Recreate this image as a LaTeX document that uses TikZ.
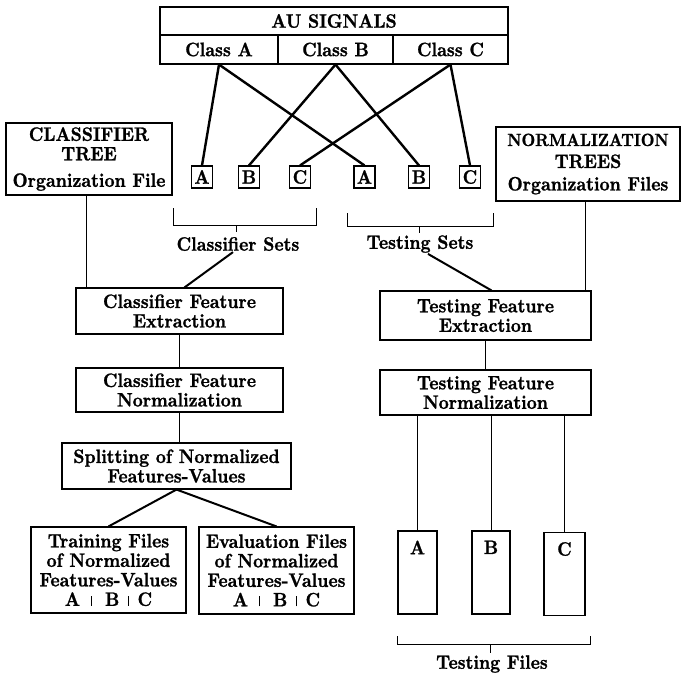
\documentclass[tikz,border=0pt]{standalone}
\usepackage{fontspec}
\usetikzlibrary{calc}
% heavy, slightly condensed Latin Modern bold for all labels
\newfontfamily\diagfont{lmroman10-bold.otf}[FakeBold=1.2, FakeStretch=0.9]
\begin{document}
\begin{tikzpicture}[x=1pt,y=-1pt,
  txt/.style={font=\diagfont\fontsize{19.4}{19.5}\selectfont, align=center, inner sep=1pt},
  box/.style={txt, draw, line width=1.1pt},
  setbox/.style={box, minimum width=21, minimum height=22, inner sep=0pt},
  filebox/.style={box, minimum height=83},
  heavy/.style={line width=2.4pt},
  medium/.style={line width=2pt},
  light/.style={line width=0.9pt},
  brk/.style={line width=1pt},
]
\useasboundingbox (0,0) rectangle (681,675);

% signal source table
\node[box, minimum width=348, minimum height=28] (au) at (334,21) {AU SIGNALS};
\node[box, minimum width=118, minimum height=29] (ca) at (219,49.5) {Class A};
\node[box, minimum width=115, minimum height=29] (cb) at (335.5,49.5) {Class B};
\node[box, minimum width=115, minimum height=29] (cc) at (450.5,49.5) {Class C};

% classifier and testing sets
\node[setbox] (sa1) at (202,177) {A};
\node[setbox] (sb1) at (249,177) {B};
\node[setbox] (sc1) at (300,177) {C};
\node[setbox] (sa2) at (364.5,177) {A};
\node[setbox] (sb2) at (419,177) {B};
\node[setbox] (sc2) at (470,177) {C};

\draw[heavy] (ca.south) -- (sa1.north);
\draw[heavy] (ca.south) -- (sa2.north);
\draw[heavy] (cb.south) -- (sb1.north);
\draw[heavy] (cb.south) -- (sb2.north);
\draw[heavy] (cc.south) -- (sc1.north);
\draw[heavy] (cc.south) -- (sc2.north);

% brackets under the sets
\coordinate (cl1) at (173,208);
\coordinate (cl2) at (316,208);
\coordinate (clm) at (236,225);
\draw[brk] (cl1) -- ++(0,17) -| (cl2);
\draw[brk] (clm) -- ++(0,7);
\node[txt] (csl) at (238,244) {Classifier Sets};

\coordinate (tl1) at (347,213);
\coordinate (tl2) at (493,213);
\coordinate (tlm) at (419,226);
\draw[brk] (tl1) -- ++(0,13) -| (tl2);
\draw[brk] (tlm) -- ++(0,7);
\node[txt] (tsl) at (420,244) {Testing Sets};

% organization files
\node[box, minimum width=166, minimum height=72] (ct) at (89,159)
  {CLASSIFIER\\[0pt]TREE\\[7pt]Organization File};
\node[box, minimum width=184, minimum height=74] (nt) at (588,164)
  {{\fontsize{17.6}{19}\selectfont NORMALIZATION}\\[2.5pt]TREES\\[3pt]Organization Files};

% classifier branch
\node[box, minimum width=207, minimum height=46] (cfe) at (179.5,311) {Classifier Feature\\Extraction};
\node[box, minimum width=207, minimum height=44] (cfn) at (179.5,390) {Classifier Feature\\Normalization};
\node[box, minimum width=229, minimum height=46] (spl) at (176.5,466) {Splitting of Normalized\\Features-Values};
\node[box, minimum width=155, minimum height=86] (trf) at (108.5,570)
  {Training Files\\of Normalized\\Features-Values\\A\hspace{0.55em}\rule{0.8pt}{10pt}\hspace{0.7em}B\hspace{0.45em}\rule{0.8pt}{10pt}\hspace{0.45em}C};
\node[box, minimum width=155, minimum height=87] (evf) at (276.5,570.5)
  {Evaluation Files\\of Normalized\\Features-Values\\A\hspace{0.55em}\rule{0.8pt}{10pt}\hspace{0.7em}B\hspace{0.45em}\rule{0.8pt}{10pt}\hspace{0.45em}C};

% testing branch
\node[box, minimum width=211, minimum height=49] (tfe) at (485.5,315.5) {Testing Feature\\Extraction};
\node[box, minimum width=211, minimum height=45] (tfn) at (485.5,392.5) {Testing Feature\\Normalization};
\node[filebox, minimum width=39, label={[txt, anchor=north, yshift=-9pt]north:A}] (tfa) at (417.5,572.5) {};
\node[filebox, minimum width=38, label={[txt, anchor=north, yshift=-9pt]north:B}] (tfb) at (491,572.5) {};
\node[filebox, minimum width=41, label={[txt, anchor=north, yshift=-9pt]north:C}] (tfc) at (564.5,574) {};

\coordinate (fl1) at (397,636);
\coordinate (fl2) at (590,636);
\coordinate (flm) at (490,644);
\draw[brk] (fl1) -- ++(0,8) -| (fl2);
\draw[brk] (flm) -- ++(0,9);
\node[txt] (tfl) at (492,664) {Testing Files};

% connectors
\draw[medium] ($(csl.south)+(-5,0)$) -- ($(cfe.north)+(5,0)$);
\draw[medium] ($(tsl.south)+(8,0)$) -- ($(tfe.north)+(6,0)$);
\draw[light] ($(ct.south)+(-3,0)$) -- ($(ct.south |- cfe.north)+(-3,0)$);
\draw[light] (cfe.south) -- (cfn.north);
\draw[light] (cfn.south) -- (cfn.south |- spl.north);
\draw[medium] (spl.south) -- (trf.north);
\draw[medium] (spl.south) -- (evf.north);
\draw[light] ($(nt.south)+(-3,0)$) -- ($(nt.south |- tfe.north)+(-3,0)$);
\draw[light] (tfe.south) -- (tfn.north);
\draw[light] (tfa.north |- tfn.south) -- (tfa.north);
\draw[light] (tfb.north |- tfn.south) -- (tfb.north);
\draw[light] (tfc.north |- tfn.south) -- (tfc.north);
\end{tikzpicture}
\end{document}
